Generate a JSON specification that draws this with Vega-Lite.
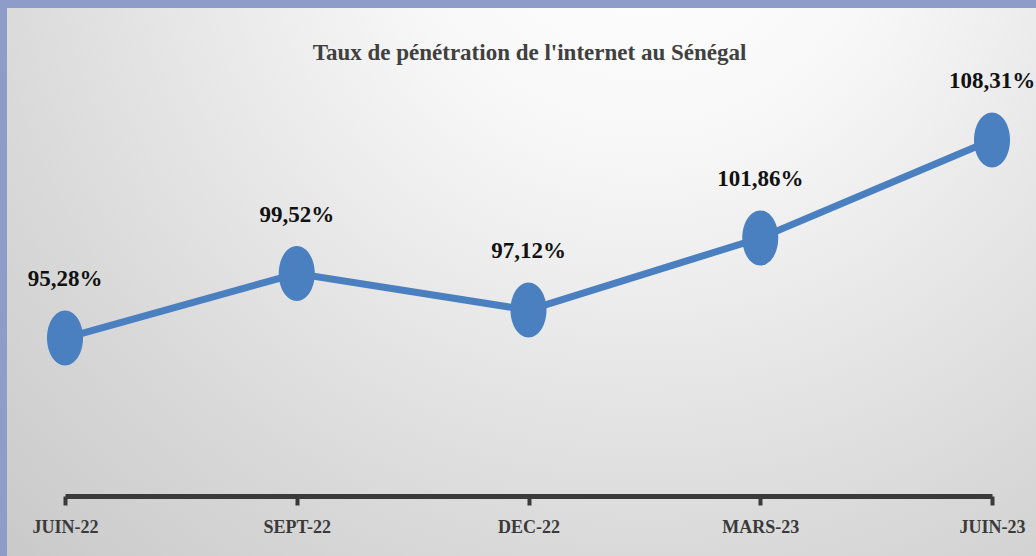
{
  "$schema": "https://vega.github.io/schema/vega-lite/v6.json",
  "width": 1036,
  "height": 556,
  "autosize": {"type": "fit", "contains": "padding"},
  "padding": {"left": 7, "top": 8, "right": 0, "bottom": 0},
  "background": "#8e9cc9",
  "config": {
    "view": {
      "stroke": null,
      "fill": {
        "gradient": "radial",
        "x1": 0.62, "y1": 0.12, "r1": 0,
        "x2": 0.62, "y2": 0.12, "r2": 0.95,
        "stops": [
          {"offset": 0, "color": "#ffffff"},
          {"offset": 0.25, "color": "#f8f8f8"},
          {"offset": 0.7, "color": "#d8d8d8"},
          {"offset": 1, "color": "#c6c6c6"}
        ]
      }
    }
  },
  "title": {
    "text": "Taux de pénétration de l'internet au Sénégal",
    "font": "Liberation Serif",
    "fontSize": 23,
    "fontWeight": "bold",
    "color": "#404040",
    "frame": "group",
    "anchor": "middle",
    "offset": -75,
    "baseline": "alphabetic",
    "dx": 8
  },
  "data": {
    "values": [
      {"periode": "JUIN-22", "taux": 95.28, "label": "95,28%"},
      {"periode": "SEPT-22", "taux": 99.52, "label": "99,52%"},
      {"periode": "DEC-22", "taux": 97.12, "label": "97,12%"},
      {"periode": "MARS-23", "taux": 101.86, "label": "101,86%"},
      {"periode": "JUIN-23", "taux": 108.31, "label": "108,31%"}
    ]
  },
  "encoding": {
    "x": {
      "field": "periode",
      "type": "ordinal",
      "sort": null,
      "scale": {"type": "point", "range": [58, 985], "padding": 0},
      "axis": {
        "title": null,
        "offset": -60,
        "domainWidth": 5,
        "domainColor": "#3a3a3a",
        "tickSize": 9,
        "tickWidth": 4,
        "tickColor": "#3a3a3a",
        "labelFont": "Liberation Serif",
        "labelFontSize": 18,
        "labelFontWeight": "bold",
        "labelColor": "#3a3a3a",
        "labelPadding": 13,
        "labelBaseline": "top",
        "labelAngle": 0,
        "labelFlush": false,
        "grid": false
      }
    },
    "y": {
      "field": "taux",
      "type": "quantitative",
      "scale": {"domain": [80.94, 116.99], "zero": false, "nice": false},
      "axis": null
    }
  },
  "layer": [
    {"mark": {"type": "line", "color": "#4a7fc0", "strokeWidth": 7}},
    {"mark": {"type": "point", "shape": "M0,-1A0.655,1 0 1,1 0,1A0.655,1 0 1,1 0,-1Z", "size": 3025, "filled": true, "color": "#4a7fc0", "opacity": 1}},
    {
      "mark": {"type": "text", "font": "Liberation Serif", "fontSize": 23, "fontWeight": "bold", "color": "#111111", "dy": -59, "baseline": "middle", "clip": true},
      "encoding": {"text": {"field": "label"}}
    }
  ]
}
